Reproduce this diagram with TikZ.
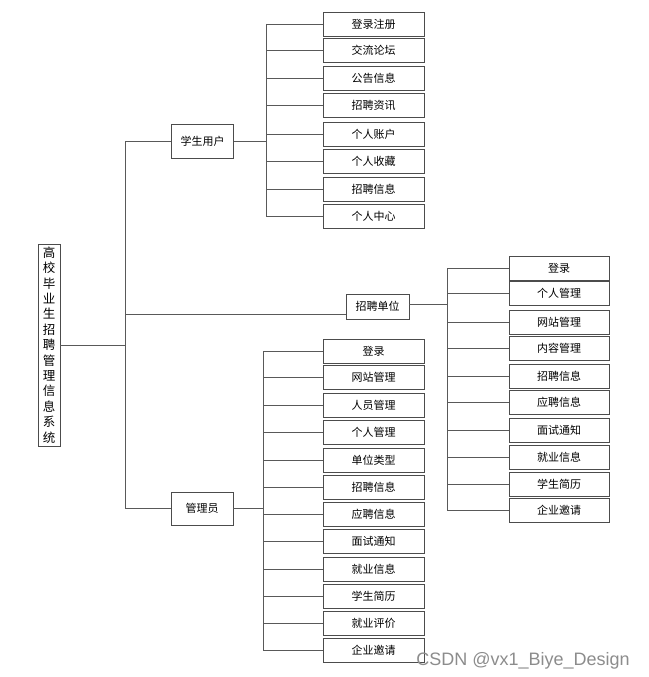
\documentclass[tikz,border=0pt]{standalone}
\usepackage{fontspec}
\usepackage{tikz}
\usetikzlibrary{positioning,calc}
\newfontfamily\cjk{Noto Sans CJK SC}
\setsansfont{Liberation Sans}

\begin{document}
\begin{tikzpicture}[x=1pt, y=-1pt, line width=0.8pt,
  every node/.style={font=\cjk\fontsize{11}{13}\selectfont, inner sep=0pt},
  leaf/.style={draw=black!70, fill=white, minimum width=101pt, minimum height=24pt},
  mid/.style={draw=black!70, fill=white, minimum width=62pt, minimum height=34pt},
  rootbox/.style={draw=black!70, fill=white, minimum width=22pt, minimum height=202pt,
    align=center, font=\cjk\fontsize{12.5}{15.4}\selectfont},
  link/.style={draw=black!65}]

\useasboundingbox (0,0) rectangle (648,677);

% root
\node[rootbox] at (49, 345) (sys) {高\\校\\毕\\业\\生\\招\\聘\\管\\理\\信\\息\\系\\统};

% second level
\node[mid] at (202.5, 141) (stu) {学生用户};
\node[mid, minimum width=63pt, minimum height=25pt] at (377.5, 306.5) (unit) {招聘单位};
\node[mid, minimum height=33pt] at (202, 508.5) (adm) {管理员};

\coordinate (trunk) at (125, 0);
\draw[link] (sys.east) -- (sys.east -| trunk);
\draw[link] (trunk |- stu.west) -- (trunk |- adm.west);
\draw[link] (trunk |- stu.west) -- (stu.west);
\draw[link] (trunk |- 0,314) -- (unit.west |- 0,314);
\draw[link] (trunk |- adm.west) -- (adm.west);

% student user
\node[leaf] at (373.5, 24) (s1) {登录注册};
\node[leaf] at (373.5, 50) (s2) {交流论坛};
\node[leaf] at (373.5, 78) (s3) {公告信息};
\node[leaf] at (373.5, 105) (s4) {招聘资讯};
\node[leaf] at (373.5, 134) (s5) {个人账户};
\node[leaf] at (373.5, 161) (s6) {个人收藏};
\node[leaf] at (373.5, 189) (s7) {招聘信息};
\node[leaf] at (373.5, 216) (s8) {个人中心};

\coordinate (sbus) at (266, 0);
\draw[link] (stu.east) -- (stu.east -| sbus);
\draw[link] (sbus |- s1.west) -- (sbus |- s8.west);
\foreach \k in {1,...,8}
  \draw[link] (sbus |- s\k.west) -- (s\k.west);

% recruiting unit
\node[leaf, minimum width=100pt] at (559, 268) (u1) {登录};
\node[leaf, minimum width=100pt] at (559, 293.5) (u2) {个人管理};
\node[leaf, minimum width=100pt] at (559, 322) (u3) {网站管理};
\node[leaf, minimum width=100pt] at (559, 348.5) (u4) {内容管理};
\node[leaf, minimum width=100pt] at (559, 376) (u5) {招聘信息};
\node[leaf, minimum width=100pt] at (559, 402) (u6) {应聘信息};
\node[leaf, minimum width=100pt] at (559, 430) (u7) {面试通知};
\node[leaf, minimum width=100pt] at (559, 457) (u8) {就业信息};
\node[leaf, minimum width=100pt] at (559, 484) (u9) {学生简历};
\node[leaf, minimum width=100pt] at (559, 510) (u10) {企业邀请};

\coordinate (ubus) at (447, 0);
\draw[link] (unit.east |- 0,304) -- (ubus |- 0,304);
\draw[link] (ubus |- u1.west) -- (ubus |- u10.west);
\foreach \k in {1,...,10}
  \draw[link] (ubus |- u\k.west) -- (u\k.west);

% administrator
\node[leaf] at (373.5, 351) (a1) {登录};
\node[leaf] at (373.5, 377) (a2) {网站管理};
\node[leaf] at (373.5, 405) (a3) {人员管理};
\node[leaf] at (373.5, 432) (a4) {个人管理};
\node[leaf] at (373.5, 460) (a5) {单位类型};
\node[leaf] at (373.5, 487) (a6) {招聘信息};
\node[leaf] at (373.5, 514) (a7) {应聘信息};
\node[leaf] at (373.5, 541) (a8) {面试通知};
\node[leaf] at (373.5, 569) (a9) {就业信息};
\node[leaf] at (373.5, 596) (a10) {学生简历};
\node[leaf] at (373.5, 623) (a11) {就业评价};
\node[leaf] at (373.5, 650) (a12) {企业邀请};

\coordinate (abus) at (263, 0);
\draw[link] (adm.east) -- (adm.east -| abus);
\draw[link] (abus |- a1.west) -- (abus |- a12.west);
\foreach \k in {1,...,12}
  \draw[link] (abus |- a\k.west) -- (a\k.west);

% watermark
\node[anchor=base west, text=black!45, font=\sffamily\fontsize{18}{20}\selectfont] at (416, 665) (mark) {CSDN @vx1\_Biye\_Design};

\end{tikzpicture}
\end{document}
